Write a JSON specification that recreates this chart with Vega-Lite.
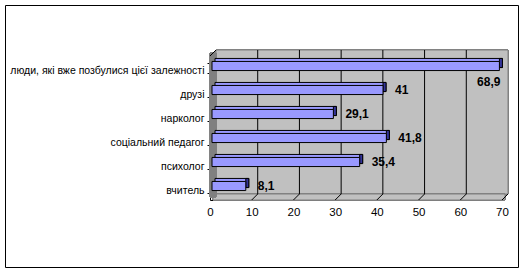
{
  "$schema": "https://vega.github.io/schema/vega-lite/v6.json",
  "width": 513,
  "height": 262,
  "autosize": {"type": "none"},
  "padding": 5,
  "background": "white",
  "view": {"stroke": "black", "strokeWidth": 1, "fill": "white"},
  "config": {
    "view": {"stroke": "black", "strokeWidth": 1, "fill": "white"},
    "font": "Liberation Sans",
    "locale": {"number": {"decimal": ",", "thousands": " ", "grouping": [3], "currency": ["", " грн"]}}
  },
  "data": {
    "values": [
      {"cat": "люди, які вже позбулися цієї залежності", "v": 68.9},
      {"cat": "друзі", "v": 41},
      {"cat": "нарколог", "v": 29.1},
      {"cat": "соціальний педагог", "v": 41.8},
      {"cat": "психолог", "v": 35.4},
      {"cat": "вчитель", "v": 8.1}
    ]
  },
  "resolve": {"scale": {"y": "independent"}},
  "layer": [
    {
      "layer": [
        {
          "mark": {"type": "rect", "fill": "#C0C0C0", "stroke": "#808080", "strokeWidth": 1, "xOffset": 6, "x2Offset": 6, "yOffset": -6, "y2Offset": -6},
          "encoding": {
            "x": {"datum": 0, "type": "quantitative", "scale": {"domain": [0, 70], "range": [205, 497], "nice": false, "zero": true},
              "axis": {"orient": "bottom", "offset": -67, "title": null, "values": [0, 10, 20, 30, 40, 50, 60, 70], "grid": false, "ticks": false, "domainColor": "black", "labelPadding": 6, "labelFontSize": 11.5, "labelColor": "black", "labelFlush": false, "labelFont": "Liberation Sans"}},
            "x2": {"datum": 70},
            "y": {"datum": 0, "type": "quantitative", "scale": {"domain": [0, 1], "range": [195, 51], "nice": false, "zero": false}, "axis": null},
            "y2": {"datum": 1}
          }
        },
        {
          "mark": {"type": "rect", "fill": "#C0C0C0", "stroke": "#808080", "strokeWidth": 1, "xOffset": 3, "x2Offset": 3, "yOffset": 0, "y2Offset": -6},
          "encoding": {
            "x": {"datum": 0, "type": "quantitative"},
            "x2": {"datum": 70},
            "y": {"datum": 0, "type": "quantitative"},
            "y2": {"datum": 0}
          }
        },
        {
          "mark": {"type": "rect", "fill": "#808080", "stroke": "#808080", "strokeWidth": 1, "xOffset": 0, "x2Offset": 6, "yOffset": -3, "y2Offset": -3},
          "encoding": {
            "x": {"datum": 0, "type": "quantitative"},
            "x2": {"datum": 0},
            "y": {"datum": 0, "type": "quantitative"},
            "y2": {"datum": 1}
          }
        },
        {
          "data": {"values": [{"g": 10}, {"g": 20}, {"g": 30}, {"g": 40}, {"g": 50}, {"g": 60}]},
          "mark": {"type": "rule", "color": "black", "strokeWidth": 1, "xOffset": 6, "yOffset": -6, "y2Offset": -6},
          "encoding": {
            "x": {"field": "g", "type": "quantitative"},
            "y": {"datum": 0, "type": "quantitative"},
            "y2": {"datum": 1}
          }
        },
        {
          "data": {"values": [{"g": 10}, {"g": 20}, {"g": 30}, {"g": 40}, {"g": 50}, {"g": 60}, {"g": 70}]},
          "mark": {"type": "rule", "color": "black", "strokeWidth": 1, "xOffset": 0, "x2Offset": 6, "yOffset": 0, "y2Offset": -6},
          "encoding": {
            "x": {"field": "g", "type": "quantitative"},
            "x2": {"field": "g"},
            "y": {"datum": 0, "type": "quantitative"},
            "y2": {"datum": 0}
          }
        },
        {
          "mark": {"type": "rule", "color": "black", "strokeWidth": 1, "xOffset": 0, "x2Offset": 6, "yOffset": 0, "y2Offset": -6},
          "encoding": {
            "x": {"datum": 0, "type": "quantitative"},
            "x2": {"datum": 0},
            "y": {"datum": 1, "type": "quantitative"},
            "y2": {"datum": 1}
          }
        }
      ]
    },
    {
      "encoding": {
        "y": {"field": "cat", "type": "nominal", "sort": null,
          "scale": {"range": [51, 195], "paddingInner": 0.62, "paddingOuter": 0.31},
          "axis": {"orient": "left", "offset": -205, "title": null, "domainColor": "black", "ticks": true, "tickSize": 3, "tickColor": "black", "tickBand": "extent", "labelPadding": 3, "labelOffset": 2, "labelFontSize": 10.5, "labelColor": "black", "labelLimit": 0, "labelFont": "Liberation Sans"}},
        "x": {"field": "v", "type": "quantitative"}
      },
      "layer": [
        {
          "mark": {"type": "bar", "fill": "#9999FF", "stroke": "black", "strokeWidth": 1, "xOffset": 5, "x2Offset": 5, "yOffset": -5, "y2Offset": -5}
        },
        {
          "mark": {"type": "bar", "fill": "#333399", "stroke": "black", "strokeWidth": 1, "xOffset": 2, "x2Offset": 5, "yOffset": -5, "y2Offset": -5},
          "encoding": {"x2": {"field": "v"}}
        },
        {
          "mark": {"type": "bar", "fill": "#9999FF", "stroke": "black", "strokeWidth": 1, "xOffset": 2, "x2Offset": 2, "yOffset": -2, "y2Offset": -2}
        },
        {
          "transform": [{"filter": "datum.v < 60"}],
          "mark": {"type": "text", "align": "left", "baseline": "middle", "dx": 14, "dy": -2, "fontSize": 12, "fontWeight": "bold", "color": "black"},
          "encoding": {"text": {"field": "v", "type": "quantitative", "format": "~g"}}
        },
        {
          "transform": [{"filter": "datum.v >= 60"}],
          "mark": {"type": "text", "align": "right", "baseline": "middle", "dx": 3, "dy": 14, "fontSize": 12, "fontWeight": "bold", "color": "black"},
          "encoding": {"text": {"field": "v", "type": "quantitative", "format": "~g"}}
        }
      ]
    }
  ]
}
